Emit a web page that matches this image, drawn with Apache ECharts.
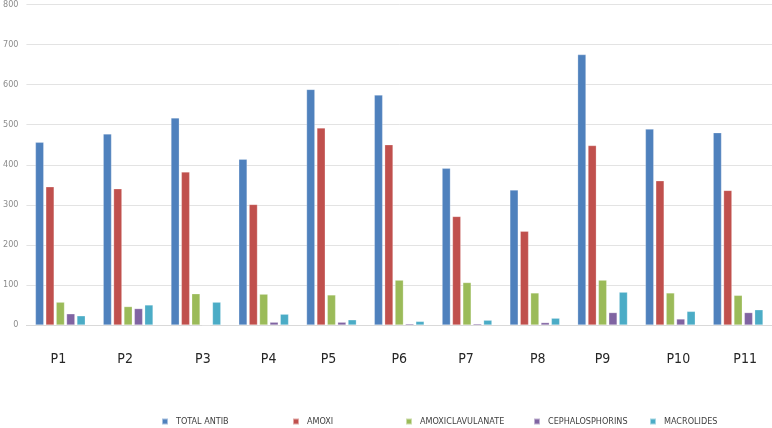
<!DOCTYPE html>
<html>
<head>
<meta charset="utf-8">
<script src="https://cdn.jsdelivr.net/npm/echarts@6/dist/echarts.min.js"></script>
<style>html,body{margin:0;padding:0;background:#fff}#c{width:772px;height:428px}</style>
</head>
<body>
<div id="c"></div>
<script>
const categories = ['P1','P2','P3','P4','P5','P6','P7','P8','P9','P10','P11'];
const totalAntib = [456, 477, 517, 414, 588, 574, 391, 337, 675, 489, 480];
const amoxi = [345, 340, 382, 301, 492, 450, 271, 234, 448, 360, 336];
const amoxiclavulanate = [57, 46, 78, 77, 75, 112, 106, 80, 112, 80, 74];
const cephalosphorins = [28, 41, 0, 7, 7, 3, 3, 6, 31, 15, 31];
const macrolides = [23, 50, 57, 27, 13, 9, 12, 17, 82, 34, 38];
const yTicks = [0, 100, 200, 300, 400, 500, 600, 700, 800];

const seriesNames = ['TOTAL ANTIB','AMOXI','AMOXICLAVULANATE','CEPHALOSPHORINS','MACROLIDES'];
const seriesData = [totalAntib, amoxi, amoxiclavulanate, cephalosphorins, macrolides];
const colors = ['#4F81BD','#C0504D','#9BBB59','#8064A2','#4BACC6'];
const legendLeft = [161, 292, 405, 533, 649];
// horizontal nudges of the category labels (pixels) to mimic the reference placement
const labelShift = [-2, -3, 7, 5, -3, 0, -1, 3, 0, 8, 7];
const font = "'Liberation Sans Narrow','DejaVu Sans Condensed',sans-serif";

const rich = {};
labelShift.forEach((s, i) => {
  rich['s' + i] = {fontSize: 14, color: '#262626', fontFamily: font,
    padding: s >= 0 ? [0, 0, 0, 2 * s] : [0, -2 * s, 0, 0]};
});

const chart = echarts.init(document.getElementById('c'), null, {renderer:'canvas'});
chart.setOption({
  animation: false,
  color: colors,
  grid: {left: 25, right: 0, top: 3, bottom: 103, containLabel: false},
  legend: seriesNames.map((n, i) => ({
    data: [n], left: legendLeft[i], top: 417, padding: 0, icon: 'rect', itemWidth: 6, itemHeight: 6,
    itemGap: 0, textStyle: {fontSize: 9, color: '#404040', fontFamily: font, padding: [0,0,0,3]}
  })),
  xAxis: {
    type: 'category', data: categories,
    axisTick: {show: false},
    axisLine: {lineStyle: {color: '#d9d9d9', width: 1}},
    axisLabel: {interval: 0, hideOverlap: false, fontSize: 14, color: '#262626', margin: 27,
      fontFamily: font, rich: rich,
      formatter: (v, i) => '{s' + i + '|' + v + '}'}
  },
  yAxis: {
    type: 'value', min: 0, max: 800, interval: 100,
    axisLine: {show: false}, axisTick: {show: false},
    splitLine: {lineStyle: {color: '#e3e3e3', width: 1}},
    axisLabel: {fontSize: 9, color: '#8c8c8c', margin: 8, fontFamily: font,
      formatter: v => yTicks.includes(v) ? String(v) : ''}
  },
  series: seriesNames.map((n, i) => ({
    name: n, type: 'bar', data: seriesData[i], barWidth: 8.3, barGap: '25%',
    itemStyle: {color: colors[i], borderColor: 'rgba(255,255,255,0.5)', borderWidth: 0.5}
  }))
});
</script>
</body>
</html>
